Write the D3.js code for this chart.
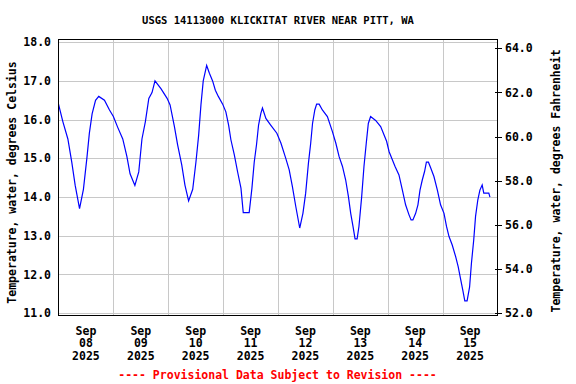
<!DOCTYPE html>
<html>
<head>
<meta charset="UTF-8">
<title>USGS 14113000 KLICKITAT RIVER NEAR PITT, WA</title>
<script src="https://cdn.jsdelivr.net/npm/d3@7"></script>
<style>
    body { margin: 0; background: #fff; }
    text { font-family: "DejaVu Sans Mono", monospace; font-weight: bold; fill: #000; }
    .grid line { stroke: #c8c8c8; stroke-width: 1; shape-rendering: crispEdges; }
</style>
</head>
<body>
<div id="chart"></div>
<script>
    // hours since 2025-09-08 00:00 and water temperature (deg C)
    var hours = [0, 1.9, 4.1, 5.8, 7.3, 9.2, 10.9, 12.4, 13.5, 14.7, 16.2, 17.6, 20.1, 22.3,
        24.0, 25.9, 28.1, 29.9, 31.3, 33.4, 35.1, 36.5, 38.0, 39.5, 40.9, 42.2, 44.8, 47.5,
        48.8, 50.7, 52.1, 53.9, 55.3, 56.9, 58.7, 60.1, 61.3, 62.3, 63.3, 64.8, 66.0, 67.4, 68.6, 69.9, 71.8,
        73.2, 74.4, 75.4, 76.9, 78.3, 79.8, 80.8, 83.4, 84.6, 85.6, 86.6, 87.5, 88.5, 89.2, 90.7, 92.8, 95.5,
        97.3, 99.4, 100.9, 102.3, 103.8, 105.5, 106.9, 108.1, 109.3, 110.3, 111.1, 112.1, 112.9, 114.0, 115.4,
        117.6, 119.8, 121.3, 122.7, 124.2, 125.6, 126.8, 127.8, 128.8, 129.7, 130.6, 131.4, 132.6, 133.6,
        134.6, 135.5, 136.5, 138.7, 140.9, 143.5, 144.6, 147.2, 148.9, 150.4, 151.8, 153.3, 154.2, 155.0,
        156.2, 157.2, 158.1, 159.1, 160.1, 160.9, 161.8, 162.8, 164.2, 165.7, 167.1, 168.6, 169.7, 170.8,
        172.2, 173.7, 174.8, 175.8, 176.8, 177.7, 178.7, 179.8, 180.6, 181.6, 182.4, 183.4, 184.3, 185.3,
        186.0, 188.2, 188.7];
    var tempC = [16.4, 15.95, 15.5, 14.9, 14.3, 13.7, 14.2, 15.0, 15.65, 16.15, 16.5, 16.6, 16.5, 16.25,
        16.08, 15.8, 15.5, 15.05, 14.6, 14.3, 14.65, 15.5, 15.95, 16.55, 16.7, 17.0, 16.8, 16.55,
        16.38, 15.82, 15.35, 14.83, 14.31, 13.9, 14.2, 14.9, 15.6, 16.38, 17.0, 17.4, 17.2, 17.0, 16.76, 16.6, 16.4,
        16.2, 15.86, 15.48, 15.09, 14.66, 14.23, 13.6, 13.6, 14.23, 14.9, 15.35, 15.86, 16.16, 16.3, 16.03, 15.86, 15.65,
        15.39, 15.0, 14.7, 14.27, 13.75, 13.2, 13.58, 14.1, 14.87, 15.39, 15.9, 16.25, 16.4, 16.4, 16.25,
        16.08, 15.69, 15.39, 15.05, 14.79, 14.44, 14.01, 13.58, 13.24, 12.92, 12.92, 13.24, 14.01, 14.79,
        15.39, 15.9, 16.08, 15.98, 15.82, 15.44, 15.17, 14.79, 14.57, 14.18, 13.8, 13.54, 13.41, 13.41,
        13.58, 13.8, 14.18, 14.44, 14.66, 14.9, 14.9, 14.75, 14.53, 14.18, 13.8, 13.58, 13.24, 12.98,
        12.76, 12.46, 12.2, 11.9, 11.6, 11.32, 11.32, 11.68, 12.29, 12.89, 13.5, 13.93, 14.18, 14.31,
        14.1, 14.1, 14.0];

    var celsiusTicks = [11, 12, 13, 14, 15, 16, 17, 18];
    var fahrenheitTicks = [52, 54, 56, 58, 60, 62, 64];
    var dayLabels = ["08", "09", "10", "11", "12", "13", "14", "15"];

    var start = new Date(Date.UTC(2025, 8, 8));
    var end = new Date(Date.UTC(2025, 8, 16));

    var width = 576, height = 384;
    var plotLeft = 58.5, plotRight = 497.5, plotTop = 39.5, plotBottom = 315.5;

    var svg = d3.select("#chart").append("svg")
        .attr("width", width).attr("height", height);

    var x = d3.scaleUtc().domain([start, end]).range([plotLeft, plotRight]);
    var y = d3.scaleLinear().domain([10.94, 18.07]).range([plotBottom, plotTop]);
    var yF = d3.scaleLinear().domain([51.9, 64.4]).range([plotBottom, plotTop]);

    var data = hours.map(function (h, i) {
        return { date: new Date(start.getTime() + h * 3600000), value: tempC[i] };
    });

    // gridlines
    var grid = svg.append("g").attr("class", "grid");
    grid.selectAll(".hgrid")
        .data(celsiusTicks)
        .enter().append("line")
        .attr("x1", plotLeft).attr("x2", plotRight)
        .attr("y1", function (d) { return Math.round(y(d)) + 0.5; })
        .attr("y2", function (d) { return Math.round(y(d)) + 0.5; });

    var days = d3.utcDay.range(start, end);
    grid.selectAll(".vgrid")
        .data(days.slice(1))
        .enter().append("line")
        .attr("y1", plotTop).attr("y2", plotBottom)
        .attr("x1", function (d) { return Math.round(x(d)) + 0.5; })
        .attr("x2", function (d) { return Math.round(x(d)) + 0.5; });

    // data line
    var line = d3.line()
        .x(function (d) { return x(d.date); })
        .y(function (d) { return y(d.value); });

    svg.append("path")
        .datum(data)
        .attr("d", line)
        .attr("fill", "none")
        .attr("stroke", "#0000ff")
        .attr("stroke-width", 1.2);

    // frame
    svg.append("rect")
        .attr("x", plotLeft).attr("y", plotTop)
        .attr("width", plotRight - plotLeft).attr("height", plotBottom - plotTop)
        .attr("fill", "none").attr("stroke", "#000").attr("stroke-width", 1)
        .attr("shape-rendering", "crispEdges");

    // left axis labels
    svg.append("g").selectAll("text")
        .data(celsiusTicks)
        .enter().append("text")
        .attr("x", 51)
        .attr("y", function (d) { return y(d); })
        .attr("dy", "0.36em")
        .attr("text-anchor", "end")
        .style("font-size", "11.5px")
        .text(function (d) { return d.toFixed(1); });

    // right axis ticks + labels
    var rAxis = svg.append("g");
    rAxis.selectAll("line")
        .data(fahrenheitTicks)
        .enter().append("line")
        .attr("x1", plotRight - 3).attr("x2", plotRight + 4)
        .attr("y1", function (d) { return Math.round(yF(d)) + 0.5; })
        .attr("y2", function (d) { return Math.round(yF(d)) + 0.5; })
        .attr("stroke", "#000").attr("shape-rendering", "crispEdges");
    rAxis.selectAll("text")
        .data(fahrenheitTicks)
        .enter().append("text")
        .attr("x", 505)
        .attr("y", function (d) { return yF(d); })
        .attr("dy", "0.36em")
        .style("font-size", "11.5px")
        .text(function (d) { return d.toFixed(1); });

    // x axis labels, centered at noon of each day
    var xl = svg.append("g").selectAll("text")
        .data(days)
        .enter().append("text")
        .attr("text-anchor", "middle")
        .style("font-size", "11.5px")
        .attr("transform", function (d) {
            return "translate(" + x(d3.utcHour.offset(d, 12)) + ",0)";
        });
    xl.append("tspan").attr("x", 0).attr("y", 334.5).text("Sep");
    xl.append("tspan").attr("x", 0).attr("y", 347).text(function (d, i) { return dayLabels[i]; });
    xl.append("tspan").attr("x", 0).attr("y", 359.5).text("2025");

    // titles
    svg.append("text")
        .attr("x", 278).attr("y", 24)
        .attr("text-anchor", "middle")
        .style("font-size", "10.5px")
        .text("USGS 14113000 KLICKITAT RIVER NEAR PITT, WA");

    svg.append("text")
        .attr("transform", "translate(16,182.5) rotate(-90)")
        .attr("text-anchor", "middle")
        .style("font-size", "11.5px")
        .text("Temperature, water, degrees Celsius");

    svg.append("text")
        .attr("transform", "translate(560,181) rotate(-90)")
        .attr("text-anchor", "middle")
        .style("font-size", "11.5px")
        .text("Temperature, water, degrees Fahrenheit");

    svg.append("text")
        .attr("x", 277.5).attr("y", 379)
        .attr("text-anchor", "middle")
        .style("font-size", "11.5px")
        .style("fill", "#ff0000")
        .text("---- Provisional Data Subject to Revision ----");
</script>
</body>
</html>
